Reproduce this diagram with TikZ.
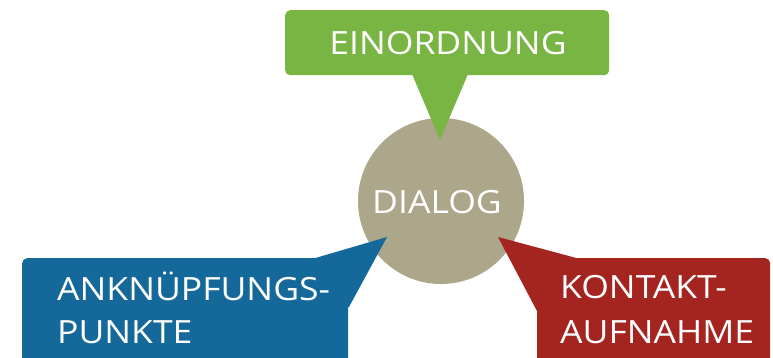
\documentclass[tikz,border=0pt]{standalone}
\usepackage{fontspec}
\setmainfont{Open Sans}[FakeStretch=1.11]
\definecolor{eingreen}{RGB}{120,181,67}
\definecolor{ankblue}{RGB}{20,105,154}
\definecolor{konred}{RGB}{164,36,32}
\definecolor{dialtan}{RGB}{172,166,138}
\tikzset{
  bubble/.style={rounded corners=5pt, inner sep=0pt, anchor=north west},
  lbl/.style={text=white, inner sep=0pt, font=\fontsize{32}{40}\selectfont},
}
\begin{document}
\begin{tikzpicture}[x=1pt,y=-1pt]
\useasboundingbox (0,0) rectangle (773,358);
\clip (0,0) rectangle (773,358);
% circle
\node[circle, fill=dialtan, minimum size=166pt, inner sep=0pt] (dialog) at (441,201) {};
% green bubble
\node[bubble, fill=eingreen, minimum width=324pt, minimum height=65pt] (einbox) at (285,10) {};
\coordinate (eintip) at (440,140);
\fill[eingreen] (412,74) -- (eintip) -- (468,74) -- cycle;
% blue bubble
\node[bubble, fill=ankblue, minimum width=326pt, minimum height=130pt] (ankbox) at (22,258) {};
\coordinate (anktip) at (387,237);
\fill[ankblue] (312,259) -- (anktip) -- (349,307) -- (330,307) -- (330,259) -- cycle;
% red bubble
\node[bubble, fill=konred, minimum width=233pt, minimum height=130pt] (konbox) at (537,258) {};
\coordinate (kontip) at (498,237);
\fill[konred] (kontip) -- (580,259) -- (580,313) -- (538,313) -- cycle;
% texts
\node[lbl, anchor=base] (eintext) at (448,55) {EINORDNUNG};
\node[lbl, anchor=base] (dialtext) at (437,213) {DIALOG};
\node[lbl, anchor=base west] (ank1) at (57,300) {ANKNÜPFUNGS-};
\node[lbl, anchor=base west] (ank2) at (57,343) {PUNKTE};
\node[lbl, anchor=base west] (kon1) at (560,298) {KONTAKT-};
\node[lbl, anchor=base west] (kon2) at (560,343) {AUFNAHME};
\end{tikzpicture}
\end{document}
